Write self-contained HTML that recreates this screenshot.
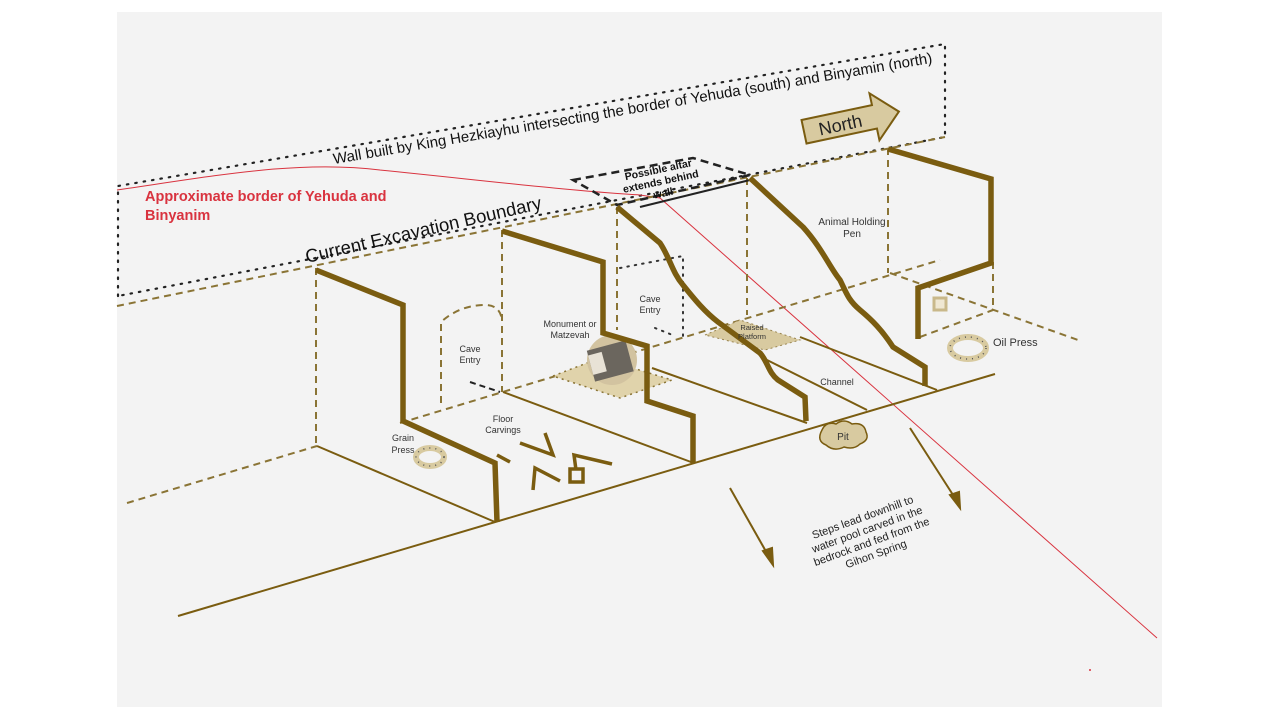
<!DOCTYPE html>
<html><head><meta charset="utf-8"><style>
html,body{margin:0;padding:0;background:#fff;}
svg{display:block;}
text{font-family:"Liberation Sans",Arial,sans-serif;}
</style></head><body>
<svg width="1280" height="720" viewBox="0 0 1280 720" xmlns="http://www.w3.org/2000/svg">
<rect x="117" y="12" width="1045" height="695" fill="#f3f3f3"/>

<!-- dotted wall region -->
<g fill="none" stroke="#222" stroke-width="2.2" stroke-dasharray="1.5 7" stroke-linecap="round">
<polyline points="118,296 118,186 945,44 945,137 118,296"/>
</g>

<!-- red border curve -->
<path d="M117,190 C220,175 300,160 380,170 C480,180 560,190 640,195 L660,198 L1157,638" fill="none" stroke="#d9333f" stroke-width="1"/>
<text x="145" y="201" font-size="14.5" font-weight="bold" fill="#d9333f">Approximate border of Yehuda and</text>
<text x="145" y="220" font-size="14.5" font-weight="bold" fill="#d9333f">Binyanim</text>

<text transform="translate(334,164) rotate(-9.6)" font-size="15" fill="#111">Wall built by King Hezkiayhu intersecting the border of Yehuda (south) and Binyamin (north)</text>

<!-- dashed gold lines -->
<g fill="none" stroke="#8a7435" stroke-width="2" stroke-dasharray="7 5">
<line x1="117" y1="306" x2="945" y2="137"/>
<line x1="127" y1="503" x2="317" y2="446"/>
<line x1="400" y1="423" x2="940" y2="260"/>
<line x1="890" y1="273" x2="1078" y2="340"/>
<line x1="920" y1="337" x2="993" y2="310"/>
<line x1="316" y1="268" x2="316" y2="446"/>
<line x1="502" y1="230" x2="502" y2="392"/>
<line x1="617" y1="207" x2="617" y2="330"/>
<line x1="747" y1="178" x2="747" y2="315"/>
<line x1="888" y1="148" x2="888" y2="273"/>
<line x1="993" y1="262" x2="993" y2="310"/>
<path d="M441,403 L441,322 Q460,305 485,305 Q500,305 502,320"/>
</g>
<line x1="470" y1="382" x2="500" y2="392" stroke="#222" stroke-width="2" stroke-dasharray="6 4"/>
<!-- cave entry 2 dotted -->
<g fill="none" stroke="#333" stroke-width="2" stroke-dasharray="1.5 6" stroke-linecap="round">
<polyline points="620,268 683,256 683,338"/>
<line x1="655" y1="328" x2="675" y2="336"/>
</g>

<text transform="translate(307,263) rotate(-13)" font-size="18.5" fill="#111">Current Excavation Boundary</text>

<!-- North arrow -->
<g transform="translate(850,122) rotate(-12)">
<polygon points="-47,-12 25,-12 25,-24 50,0 25,24 25,12 -47,12" fill="#d8caa0" stroke="#7a5c10" stroke-width="2"/>
<text x="-10" y="7" font-size="18" text-anchor="middle" fill="#222">North</text>
</g>

<!-- altar -->
<polygon points="573,180 693,158 750,175 617,205" fill="none" stroke="#222" stroke-width="2.5" stroke-dasharray="8 5"/>
<line x1="640" y1="207" x2="750" y2="180" stroke="#222" stroke-width="2"/>
<g transform="translate(660,178) rotate(-12)" font-size="10.5" font-weight="bold" fill="#111" text-anchor="middle">
<text x="0" y="-5">Possible altar</text><text x="0" y="7">extends behind</text><text x="0" y="19">wall</text>
</g>

<!-- floor solid lines -->
<g stroke="#7a5c10" stroke-width="2" fill="none">
<line x1="178" y1="616" x2="995" y2="374"/>
<line x1="317" y1="446" x2="495" y2="522"/>
<line x1="503" y1="392" x2="691" y2="462"/>
<line x1="652" y1="368" x2="807" y2="423"/>
<line x1="767" y1="360" x2="867" y2="410"/>
<line x1="800" y1="337" x2="937" y2="390"/>
</g>

<!-- raised platform -->
<polygon points="705,335 740,320 800,340 765,350" fill="#d8caa0" stroke="#9a8550" stroke-width="1" stroke-dasharray="2 3"/>
<!-- monument -->
<polygon points="553,376 600,358 672,380 620,398" fill="#e0d3ab" stroke="#8a7435" stroke-width="1.5" stroke-dasharray="2 4"/>
<circle cx="612" cy="360" r="25" fill="#d2c3a0"/>
<rect x="590" y="345" width="40" height="32" fill="#6b665e" transform="rotate(-15 610 360)"/>
<rect x="590" y="350" width="14" height="20" fill="#e8e2d6" transform="rotate(-15 610 360)"/>

<!-- thick walls -->
<g stroke="#7a5c10" stroke-width="5.5" fill="none" stroke-linejoin="miter">
<polyline points="316,270 403,305 403,421 495,463 497,522"/>
<polyline points="502,231 603,262 603,333 647,346 647,401 693,416 693,463"/>
<path d="M617,207 L660,243 C670,258 672,272 683,285 C695,300 705,312 718,322 L760,353 C768,362 768,372 778,380 L805,397 L806,421"/>
<path d="M750,178 L803,227 C822,248 830,268 840,280 C846,292 848,300 860,310 C872,320 882,330 893,347 L925,367 L925,386"/>
<polyline points="888,149 991,179 991,263 918,288 918,339"/>
</g>

<!-- floor carvings -->
<g stroke="#7a5c10" stroke-width="3.5" fill="none">
<line x1="497" y1="455" x2="510" y2="462"/>
<polyline points="520,443 553,455 545,433"/>
<polyline points="533,490 535,468 560,481"/>
<polyline points="576,470 574,455 612,464"/>
<rect x="570" y="469" width="13" height="13"/>
</g>

<!-- presses -->
<ellipse cx="430" cy="457" rx="14" ry="9" fill="none" stroke="#d8caa0" stroke-width="6"/>
<ellipse cx="430" cy="457" rx="14" ry="9" fill="none" stroke="#555" stroke-width="1.5" stroke-dasharray="1 5"/>
<ellipse cx="968" cy="348" rx="18" ry="11" fill="none" stroke="#d8caa0" stroke-width="6"/>
<ellipse cx="968" cy="348" rx="18" ry="11" fill="none" stroke="#555" stroke-width="1.5" stroke-dasharray="1 5"/>
<rect x="934" y="298" width="12" height="12" fill="#efe7d2" stroke="#c9b88a" stroke-width="3"/>

<!-- pit -->
<path d="M822,430 q4,-9 14,-6 q8,-6 16,0 q12,-2 14,8 q4,8 -6,12 q-6,6 -16,3 q-10,5 -18,-2 q-10,-4 -4,-15z" fill="#d8caa0" stroke="#7a5c10" stroke-width="1.5"/>
<text x="843" y="440" font-size="10" text-anchor="middle" fill="#333">Pit</text>

<!-- arrows -->
<g stroke="#7a5c10" stroke-width="2" fill="#7a5c10">
<line x1="730" y1="488" x2="768" y2="555"/>
<polygon points="773,565 763,551 772,548"/>
<line x1="910" y1="428" x2="955" y2="498"/>
<polygon points="960,508 950,495 959,492"/>
</g>

<!-- labels -->
<g font-size="9" fill="#333" text-anchor="middle">
<text x="470" y="352">Cave</text><text x="470" y="363">Entry</text>
<text x="570" y="327">Monument or</text><text x="570" y="338">Matzevah</text>
<text x="650" y="302">Cave</text><text x="650" y="313">Entry</text>
<text x="503" y="422">Floor</text><text x="503" y="433">Carvings</text>
<text x="403" y="441">Grain</text><text x="403" y="453">Press</text>
<text x="837" y="385">Channel</text>
<text x="852" y="225" font-size="10">Animal Holding</text><text x="852" y="237" font-size="10">Pen</text>
<text x="752" y="330" font-size="7.5">Raised</text><text x="752" y="339" font-size="7.5">Platform</text>
</g>
<text x="993" y="346" font-size="11" fill="#333">Oil Press</text>
<g transform="translate(868,532) rotate(-20)" font-size="11" fill="#222" text-anchor="middle">
<text x="0" y="-12">Steps lead downhill to</text><text x="0" y="1">water pool carved in the</text><text x="0" y="14">bedrock and fed from the</text><text x="0" y="27">Gihon Spring</text>
</g>
<circle cx="1090" cy="670" r="1" fill="#d9333f"/>
</svg>
</body></html>
